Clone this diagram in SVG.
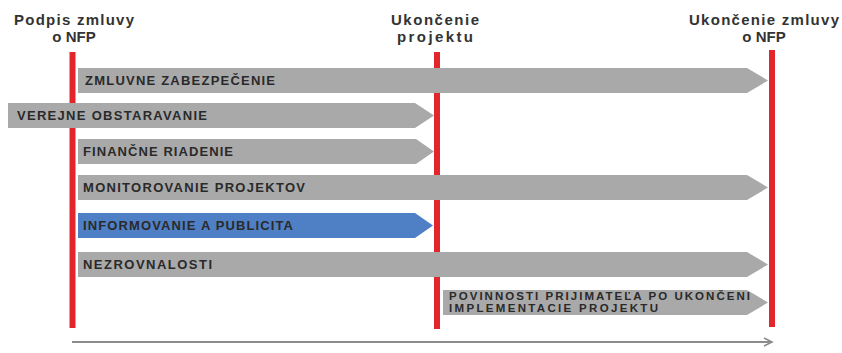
<svg xmlns="http://www.w3.org/2000/svg" width="842" height="353" viewBox="0 0 842 353">
<defs>
<style>
.ms{fill:none;stroke:#e3262b;stroke-width:6}
.hd{font-family:"Liberation Sans",Arial,sans-serif;font-weight:bold;font-size:15px;fill:#333;text-anchor:middle}
.bar{fill:#a9a9a9}
.blue{fill:#4f7fc4}
.lb{font-family:"Liberation Sans",Arial,sans-serif;font-weight:bold;font-size:13px;fill:#2a2a2a}
.lb2{font-family:"Liberation Sans",Arial,sans-serif;font-weight:bold;font-size:11.5px;fill:#2a2a2a}
.axis{fill:none;stroke:#8c8c8c;stroke-width:2}
</style>
<marker id="open" markerWidth="12" markerHeight="12" refX="9" refY="5" orient="auto" markerUnits="userSpaceOnUse">
<path d="M1,1 L9,5 L1,9" fill="none" stroke="#8c8c8c" stroke-width="1.6"/>
</marker>
</defs>
<rect width="842" height="353" fill="#fff"/>

<g id="milestone-podpis">
<line class="ms" x1="72.5" y1="52" x2="72.5" y2="328"/>
<text class="hd" x="74" y="25" textLength="120">Podpis zmluvy</text>
<text class="hd" x="74" y="42">o NFP</text>
</g>
<g id="milestone-ukoncenie-projektu">
<line class="ms" x1="437" y1="52" x2="437" y2="329"/>
<text class="hd" x="435" y="25" textLength="88">Ukončenie</text>
<text class="hd" x="435" y="42" textLength="76">projektu</text>
</g>
<g id="milestone-ukoncenie-zmluvy">
<line class="ms" x1="772" y1="50" x2="772" y2="327"/>
<text class="hd" x="764" y="25" textLength="150">Ukončenie zmluvy</text>
<text class="hd" x="764" y="42">o NFP</text>
</g>

<g id="zmluvne-zabezpecenie">
<path class="bar" d="M78,68 H747 L768,80.5 L747,93 H78 Z"/>
<text class="lb" x="85" y="85" textLength="190">ZMLUVNE ZABEZPEČENIE</text>
</g>
<g id="verejne-obstaravanie">
<path class="bar" d="M8,103 H415 L434,115.5 L415,128 H8 Z"/>
<text class="lb" x="17" y="120" textLength="190">VEREJNE OBSTARAVANIE</text>
</g>
<g id="financne-riadenie">
<path class="bar" d="M78,139 H416 L434,151.5 L416,164 H78 Z"/>
<text class="lb" x="83" y="156" textLength="150">FINANČNE RIADENIE</text>
</g>
<g id="monitorovanie-projektov">
<path class="bar" d="M78,175 H747 L768,187.5 L747,200 H78 Z"/>
<text class="lb" x="83" y="192" textLength="222">MONITOROVANIE PROJEKTOV</text>
</g>
<g id="informovanie-a-publicita">
<path class="blue" d="M78,213 H415 L433,225.5 L415,238 H78 Z"/>
<text class="lb" x="83" y="230" textLength="210">INFORMOVANIE A PUBLICITA</text>
</g>
<g id="nezrovnalosti">
<path class="bar" d="M78,252 H747 L768,264.5 L747,277 H78 Z"/>
<text class="lb" x="83" y="269" textLength="129">NEZROVNALOSTI</text>
</g>
<g id="povinnosti-prijimatela">
<path class="bar" d="M443,290 H747 L768,302.5 L747,315 H443 Z"/>
<text class="lb2" x="449" y="300" textLength="301">POVINNOSTI PRIJIMATEĽA PO UKONČENI</text>
<text class="lb2" x="449" y="312" textLength="209">IMPLEMENTACIE PROJEKTU</text>
</g>

<g id="connectors">
<line class="axis" x1="72" y1="342" x2="772" y2="342" marker-end="url(#open)"/>
</g>
</svg>
